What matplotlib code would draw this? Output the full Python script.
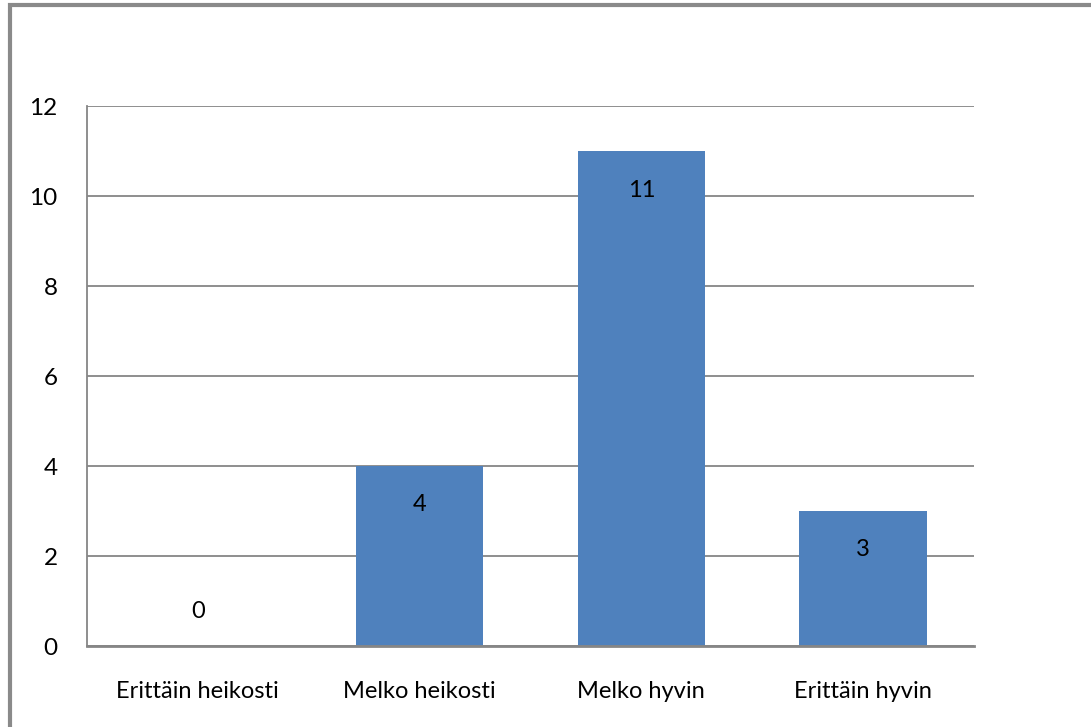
import matplotlib.pyplot as plt
from matplotlib.patches import Rectangle

categories = ["Erittäin heikosti", "Melko heikosti", "Melko hyvin", "Erittäin hyvin"]
counts = [0, 4, 11, 3]
yticks = [0, 2, 4, 6, 8, 10, 12]

plt.rcParams["font.family"] = ["Lato", "DejaVu Sans"]

fig = plt.figure(figsize=(10.91, 7.27), dpi=100)
ax = fig.add_axes([0.0797, 0.1114, 0.8130, 0.7426])

# chart frame (runs off the right and bottom edges)
fig.patches.append(Rectangle((0.0092, -0.05), 1.2, 1.0433, transform=fig.transFigure,
                             fill=False, edgecolor="#8a8a8a", linewidth=3))

x = range(len(categories))
bars = ax.bar(x, counts, width=0.575, color="#4f81bd", zorder=3)

for xi, v in zip(x, counts):
    off = -28 if v > 0 else 24.5
    ax.annotate(str(v), (xi, v), xytext=(0, off), textcoords="offset points",
                ha="center", va="center", fontsize=17, color="black", zorder=4)

ax.set_xlim(-0.5, len(categories) - 0.5)
ax.set_ylim(0, 12)
ax.set_yticks(yticks)
ax.set_xticks(list(x))
ax.set_xticklabels(categories, fontsize=17)
ax.tick_params(axis="y", labelsize=17.5, length=0, pad=21)
ax.tick_params(axis="x", length=0, pad=25)
ax.grid(axis="y", color="#868686", linewidth=1.3, zorder=1)
ax.set_axisbelow(True)

for s in ["top", "right"]:
    ax.spines[s].set_visible(False)
ax.spines["left"].set_color("#868686")
ax.spines["left"].set_linewidth(1.3)
ax.spines["bottom"].set_color("#868686")
ax.spines["bottom"].set_linewidth(2)
ax.spines["bottom"].set_zorder(5)

fig.savefig("out.png", dpi=100)
